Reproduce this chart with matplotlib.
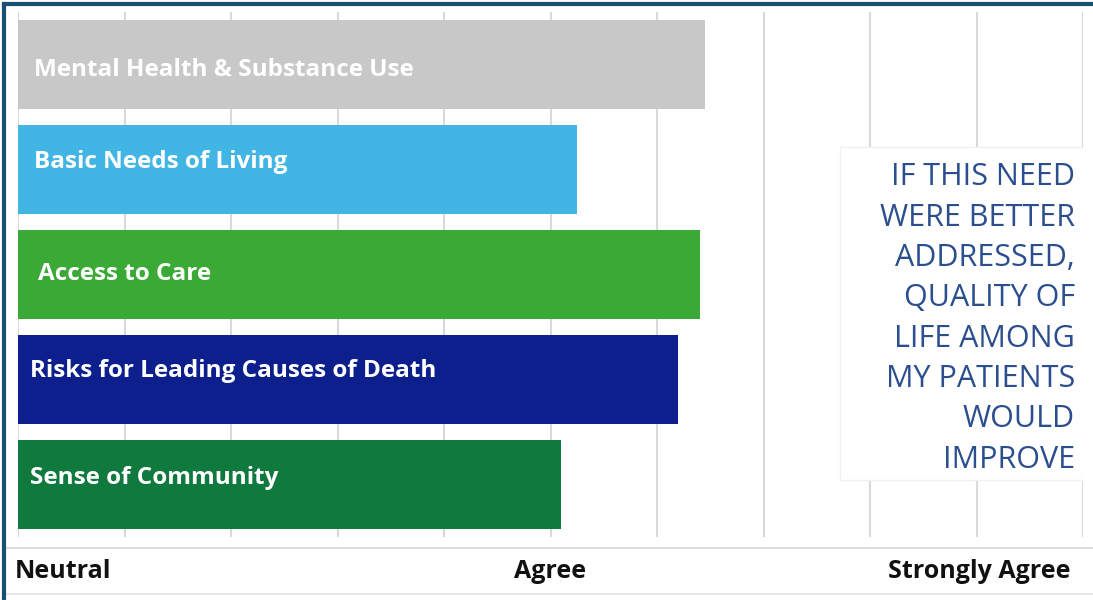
import matplotlib.pyplot as plt
from matplotlib.lines import Line2D
from matplotlib.patches import Rectangle

categories = ['Mental Health & Substance Use', 'Basic Needs of Living', 'Access to Care',
              'Risks for Leading Causes of Death', 'Sense of Community']
scores = [4.29, 4.05, 4.28, 4.24, 4.02]
colors = ['#c8c8c8', '#41b5e4', '#3aa935', '#0c1f8c', '#0f793e']
tick_vals = [3, 4, 5]
tick_labels = ['Neutral', 'Agree', 'Strongly Agree']
note = 'IF THIS NEED\nWERE BETTER\nADDRESSED,\nQUALITY OF\nLIFE AMONG\nMY PATIENTS\nWOULD\nIMPROVE'

plt.rcParams['font.family'] = ['Open Sans', 'DejaVu Sans']

fig = plt.figure(figsize=(10.93, 6.0), dpi=100)
ax = fig.add_axes([18/1093, 1-537/600, 1065/1093, 525/600])

ypos = range(len(categories))
ax.barh(ypos, [s - 3 for s in scores], left=3, height=0.84, color=colors, zorder=2)
label_x = [3.03, 3.03, 3.038, 3.023, 3.023]
label_dy = [0.05, -0.07, 0, -0.08, -0.06]
for y, name, lx, dy in zip(ypos, categories, label_x, label_dy):
    ax.text(lx, y + dy, name, color='white', fontsize=17.5, fontweight='bold', va='center', ha='left', zorder=3)

ax.set_xlim(3, 5)
ax.set_ylim(4.5, -0.5)
for i in range(11):
    ax.axvline(3 + 0.2*i, color='#d9d9d9', lw=1.5, zorder=1)
for s in ax.spines.values():
    s.set_visible(False)
ax.set_xticks([])
ax.set_yticks([])

# note box on the right
ax.add_patch(Rectangle((4.544, 0.786), 0.456, 3.171, facecolor='white', edgecolor='#f0f0f0', lw=1, zorder=4))
ax.text(4.985, 2.42, note, ha='right', va='center', fontsize=22, color='#2b4e8f',
        linespacing=1.45, zorder=5)

# category scale labels under the chart
for v, lab in zip(tick_vals, tick_labels):
    ha = {3: 'left', 4: 'center', 5: 'right'}[v]
    xv = {3: 2.994, 4: 4.0, 5: 4.976}[v]
    ax.text(xv, 4.83, lab, ha=ha, va='center', fontsize=18, fontweight='bold', color='#111111', clip_on=False)

# separator lines and frame
fig.add_artist(Line2D([5/1093, 1], [1-548/600]*2, color='#d4d4d4', lw=1.2))
fig.add_artist(Line2D([5/1093, 1], [1-594/600]*2, color='#e0e0e0', lw=1.2))
fig.add_artist(Line2D([4/1093, 4/1093], [0, 1-4/600], color='#1b4f72', lw=3))
fig.add_artist(Line2D([4/1093, 1], [1-4/600]*2, color='#1b4f72', lw=3))

fig.savefig('out.png', dpi=100)
